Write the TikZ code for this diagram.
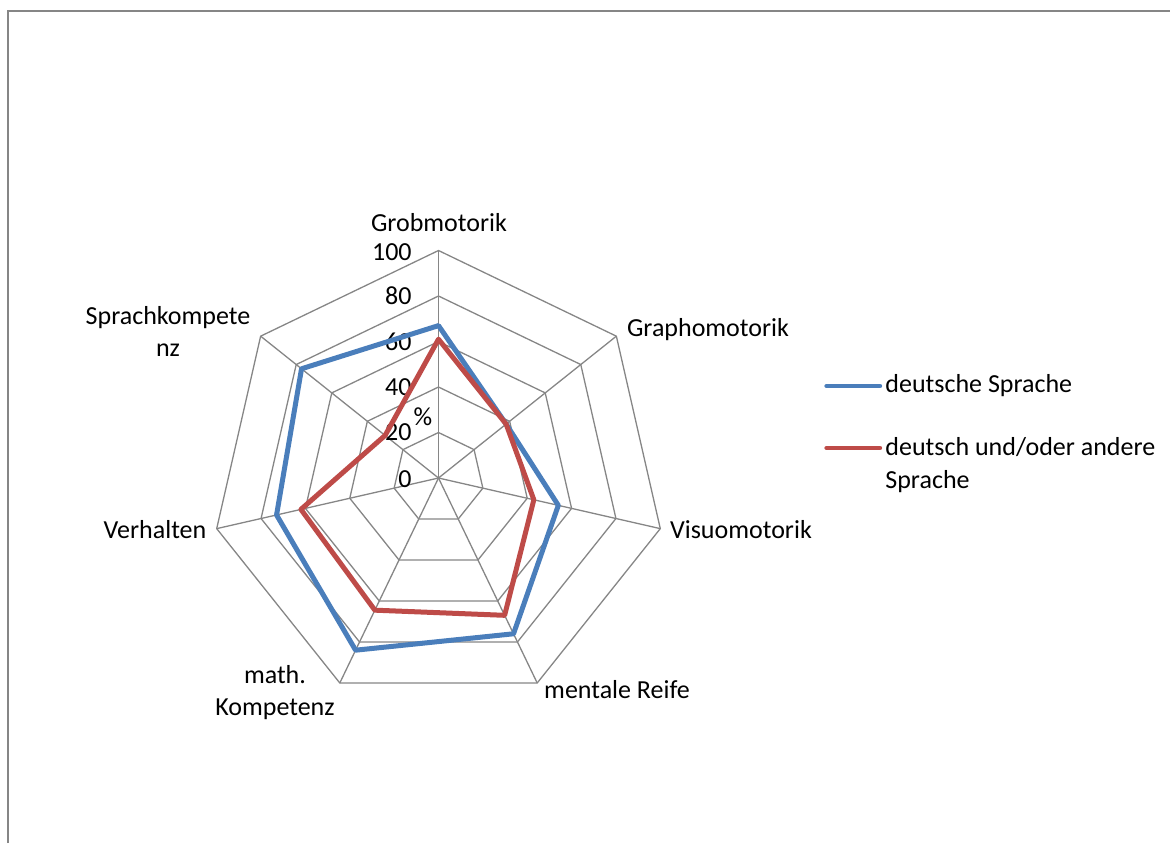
\documentclass[tikz,border=0pt]{standalone}
\usepackage{fontspec}
\setmainfont{Carlito}
\usepackage{tikz}
\usetikzlibrary{positioning}
\definecolor{gridgray}{RGB}{134,134,134}
\definecolor{seriesblue}{RGB}{74,126,187}
\definecolor{seriesred}{RGB}{190,75,72}
\tikzstyle{gridline} = [draw=gridgray, line width=0.65pt]
\tikzstyle{frameline} = [draw=gridgray, line width=1pt]
\tikzstyle{axislabel} = [text=black, align=center, inner sep=0pt, font=\fontsize{13}{16}\selectfont]
\tikzstyle{ticklabel} = [text=black, anchor=east, inner sep=0pt, font=\fontsize{13}{16}\selectfont]
\tikzstyle{legendtext} = [text=black, anchor=west, align=left, inner sep=0pt, font=\fontsize{13}{16.5}\selectfont]
\tikzstyle{blueline} = [draw=seriesblue, line width=2.5pt, line join=round]
\tikzstyle{redline} = [draw=seriesred, line width=2.5pt, line join=round]
\tikzstyle{legendline} = [line width=2.2pt, line cap=round]

\begin{document}
\begin{tikzpicture}[x=0.5pt, y=0.5pt]
\useasboundingbox (-438.5,-365) rectangle (731.5,478);

% chart area frame =============================
\coordinate (fbl) at (-430.5,-365);
\coordinate (ftl) at (-430.5,467);
\coordinate (ftr) at (731.5,467);
\path[frameline] (fbl) -- (ftl) -- (ftr);

% grid
\coordinate (c) at (0,0);
\foreach \r in {45.5,91,136.5,182,227.5}
  \path[gridline] (90:\r) -- (38.571:\r) -- (-12.857:\r) -- (-64.286:\r)
    -- (-115.714:\r) -- (-167.143:\r) -- (141.429:\r) -- cycle;
\foreach \a in {90,38.571,-12.857,-64.286,-115.714,-167.143,141.429}
  \path[gridline] (c) -- (\a:227.5);

% tick labels
\node[ticklabel] (t0) at (-26.5,-1) {0};
\node[ticklabel] (t20) at (-26.5,45.5) {20};
\node[ticklabel] (t40) at (-26.5,91) {40};
\node[ticklabel] (t60) at (-26.5,136.5) {60};
\node[ticklabel] (t80) at (-26.5,182) {80};
\node[ticklabel] (t100) at (-26.5,226) {100};
\node[axislabel] (unit) at (-15.5,61) {\%};

% axis labels
\node[axislabel] (grob) at (0.5,255) {Grobmotorik};
\node[axislabel] (grapho) at (269.5,148) {Graphomotorik};
\node[axislabel] (visuo) at (302.5,-52) {Visuomotorik};
\node[axislabel] (reife) at (178.5,-212) {mentale Reife};
\node[axislabel] (mathk) at (-163.5,-215) {math.\\Kompetenz};
\node[axislabel] (verh) at (-283.5,-52) {Verhalten};
\node[axislabel] (sprach) at (-270.5,147) {Sprachkompete\\nz};

% data deutsche Sprache
\coordinate (b1) at (90:152.4);
\coordinate (b2) at (38.571:86.5);
\coordinate (b3) at (-12.857:122.9);
\coordinate (b4) at (-64.286:172.9);
\coordinate (b5) at (-115.714:191.1);
\coordinate (b6) at (-167.143:166.1);
\coordinate (b7) at (141.429:175.2);

% data deutsch und/oder andere Sprache
\coordinate (r1) at (90:138.8);
\coordinate (r2) at (38.571:86.5);
\coordinate (r3) at (-12.857:97.8);
\coordinate (r4) at (-64.286:152.4);
\coordinate (r5) at (-115.714:146.7);
\coordinate (r6) at (-167.143:141.1);
\coordinate (r7) at (141.429:68.3);

\path[blueline] (b1) -- (b2) -- (b3) -- (b4) -- (b5) -- (b6) -- (b7) -- cycle;
\path[redline] (r1) -- (r2) -- (r3) -- (r4) -- (r5) -- (r6) -- (r7) -- cycle;

% legend
\coordinate (lb1) at (388,92);
\coordinate (lb2) at (441.5,92);
\coordinate (lr1) at (388,30);
\coordinate (lr2) at (441.5,30);
\draw[legendline, seriesblue] (lb1) -- (lb2);
\draw[legendline, seriesred] (lr1) -- (lr2);
\node[legendtext] (lbtext) at (446.5,92) {deutsche Sprache};
\node[legendtext] (lrtext) at (446.5,13) {deutsch und/oder andere\\Sprache};

\end{tikzpicture}
\end{document}
